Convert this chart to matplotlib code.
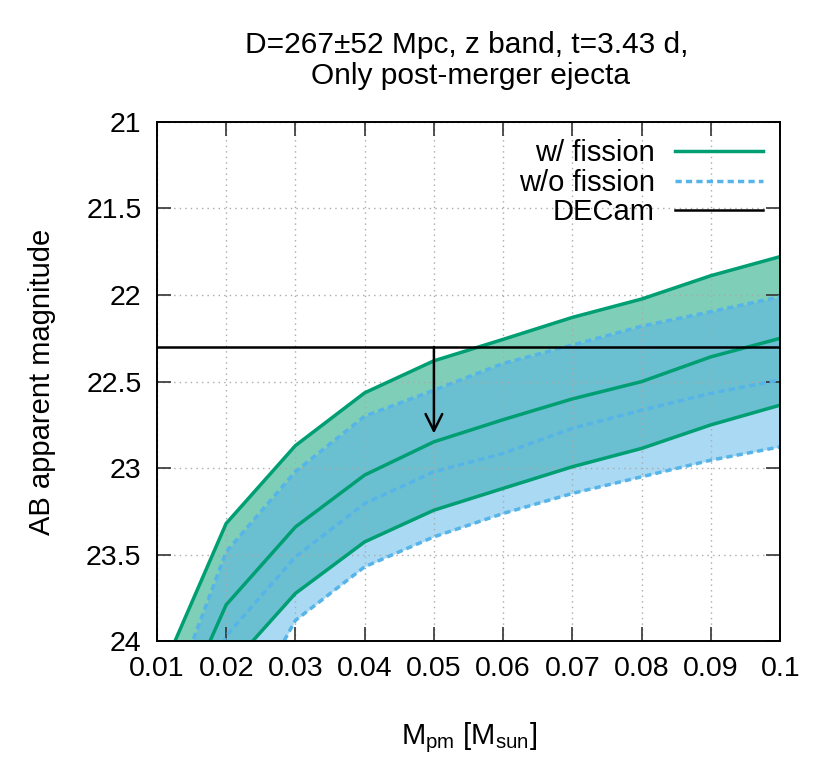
import matplotlib.pyplot as plt
import numpy as np

plt.rcParams['font.family'] = ['Liberation Sans', 'DejaVu Sans']
plt.rcParams['mathtext.fontset'] = 'custom'
plt.rcParams['mathtext.rm'] = 'Liberation Sans'
plt.rcParams['mathtext.it'] = 'Liberation Sans'

mass = [0.01, 0.02, 0.03, 0.04, 0.05, 0.06, 0.07, 0.08, 0.09, 0.10]

# w/ fission: bright edge, median, faint edge
fis_hi = [24.24, 23.32, 22.87, 22.565, 22.38, 22.256, 22.129, 22.023, 21.888, 21.778]
fis_mid = [24.69, 23.79, 23.34, 23.04, 22.848, 22.72, 22.60, 22.50, 22.357, 22.25]
fis_lo = [25.00, 24.17, 23.724, 23.426, 23.243, 23.117, 22.992, 22.886, 22.75, 22.636]

# w/o fission
nof_hi = [24.55, 23.484, 23.02, 22.70, 22.55, 22.395, 22.289, 22.18, 22.096, 22.01]
nof_mid = [24.90, 23.97, 23.513, 23.204, 23.021, 22.915, 22.77, 22.665, 22.568, 22.49]
nof_lo = [25.30, 24.60, 23.88, 23.57, 23.397, 23.262, 23.146, 23.05, 22.954, 22.877]

decam_limit = 22.3
arrow_x = 0.05
arrow_end = 22.8

green = '#009e73'
blue = '#56b4e9'

fig = plt.figure(figsize=(8.3, 7.67), dpi=100)
ax = fig.add_axes([0.189, 0.164, 0.751, 0.677])

ax.fill_between(mass, fis_hi, fis_lo, color=green, alpha=0.5, lw=0)
ax.plot(mass, fis_hi, color=green, lw=2.5, label='w/ fission')
ax.plot(mass, fis_mid, color=green, lw=2.5)
ax.plot(mass, fis_lo, color=green, lw=2.5)

ax.fill_between(mass, nof_hi, nof_lo, color=blue, alpha=0.5, lw=0)
for i, ys in enumerate([nof_hi, nof_mid, nof_lo]):
    ax.plot(mass, ys, color=blue, lw=2.5, ls=(0, (1.8, 1.2)),
            label='w/o fission' if i == 0 else None)

ax.axhline(decam_limit, color='black', lw=1.8, label='DECam')
ax.annotate('', xy=(arrow_x, arrow_end), xytext=(arrow_x, decam_limit),
            arrowprops=dict(arrowstyle='->', color='black', lw=1.8,
                            mutation_scale=30, shrinkA=0, shrinkB=0))

ax.set_xlim(0.01, 0.1)
ax.set_ylim(24, 21)
ax.set_xticks(np.arange(0.01, 0.1001, 0.01))
ax.set_xticklabels(['0.01', '0.02', '0.03', '0.04', '0.05', '0.06', '0.07', '0.08', '0.09', '0.1'])
ax.set_yticks([21, 21.5, 22, 22.5, 23, 23.5, 24])
ax.set_yticklabels(['21', '21.5', '22', '22.5', '23', '23.5', '24'])
ax.tick_params(direction='in', length=10, width=1.2, top=True, right=True,
               labelsize=20.5, pad=11, color='#333333')
ax.grid(True, color='#aaaaaa', ls=(0, (1, 3)), lw=1)
for s in ax.spines.values():
    s.set_linewidth(1.4)

ax.set_xlabel('M$_{\\mathrm{pm}}$ [M$_{\\mathrm{sun}}$]', fontsize=21, labelpad=27)
ax.set_ylabel('AB apparent magnitude', fontsize=21, labelpad=22)

fig.text(467 / 830, 1 - 53 / 767, 'D=267±52 Mpc, z band, t=3.43 d,',
         ha='center', va='baseline', fontsize=21.5)
fig.text(470 / 830, 1 - 84 / 767, 'Only post-merger ejecta',
         ha='center', va='baseline', fontsize=21.5)

ax.legend(loc='upper right', frameon=False, markerfirst=False, fontsize=21,
          handlelength=3.0, labelspacing=0.05, borderaxespad=0.2,
          handletextpad=0.7)

fig.savefig('out.png', dpi=100)
